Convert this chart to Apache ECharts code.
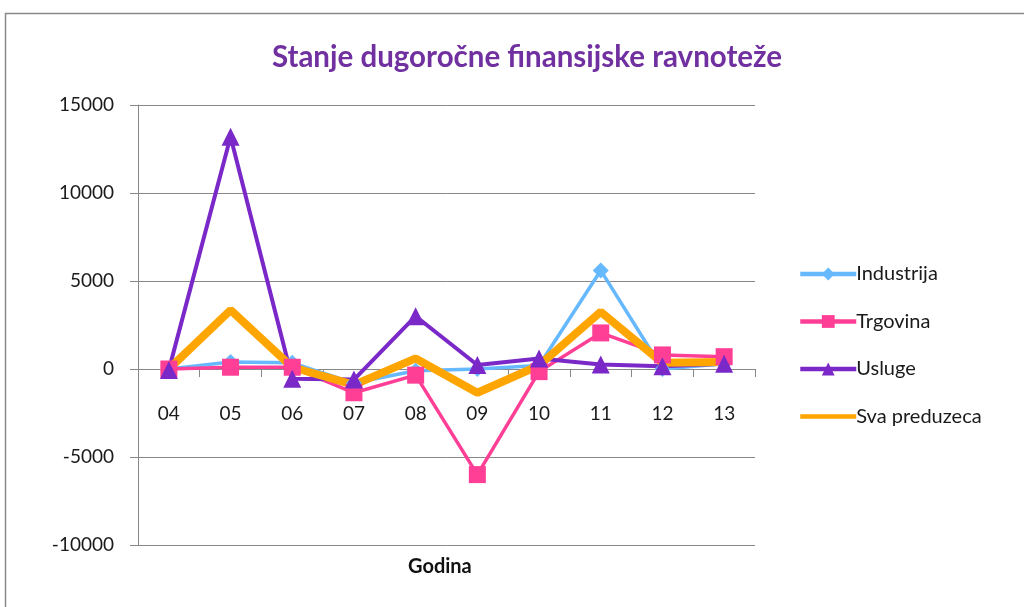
<html>
<head>
<meta charset="UTF-8">
<title>Stanje dugoročne finansijske ravnoteže</title>
<script src="https://cdn.jsdelivr.net/npm/echarts@6/dist/echarts.min.js"></script>
<style>
  body { margin: 0; background: #fff; }
  #main { width: 1024px; height: 607px; }
</style>
</head>
<body>
<div id="main"></div>
<script>
// godine (x osa)
var godine = ['04', '05', '06', '07', '08', '09', '10', '11', '12', '13'];

// vrijednosti po sektorima, ocitane sa slike
var industrija = [0, 400, 350, -800, -100, 0, 200, 5600, 0, 300];
var trgovina = [0, 100, 100, -1350, -350, -6000, -150, 2050, 800, 700];
var usluge = [-50, 13200, -550, -600, 3000, 230, 600, 250, 150, 300];
var svaPreduzeca = [0, 3350, 100, -900, 600, -1350, 200, 3250, 350, 400];

var nazivi = ['Industrija', 'Trgovina', 'Usluge', 'Sva preduzeca'];

var myChart = echarts.init(document.getElementById('main'));

function linija(ime, podaci, boja, simbol, velicina, debljina) {
    return {
        name: ime,
        type: 'line',
        data: podaci,
        symbol: simbol,
        symbolSize: velicina,
        showSymbol: simbol !== 'none',
        itemStyle: { color: boja },
        lineStyle: { color: boja, width: debljina },
        emphasis: { disabled: true }
    };
}

var option = {
    animation: false,
    backgroundColor: '#fff',
    title: {
        text: 'Stanje dugoročne finansijske ravnoteže',
        left: 522,
        top: 37,
        textAlign: 'center',
        textStyle: { color: '#7030A0', fontSize: 29.5, fontWeight: 'bold', fontFamily: 'Lato' }
    },
    legend: {
        orient: 'vertical',
        left: 793,
        top: 259,
        itemWidth: 56,
        itemHeight: 16,
        itemGap: 27.5,
        itemStyle: { borderWidth: 0 },
        lineStyle: { width: 4.5 },
        textStyle: { fontSize: 20, color: '#1a1a1a', fontFamily: 'Lato', padding: [0, 0, 0, -5] },
        data: [
            nazivi[0],
            nazivi[1],
            nazivi[2],
            { name: nazivi[3], itemStyle: { opacity: 0 } }
        ]
    },
    grid: { left: 138, right: 269, top: 105, bottom: 62 },
    xAxis: {
        type: 'category',
        data: godine,
        boundaryGap: true,
        axisLine: { onZero: true, lineStyle: { color: '#888', width: 1 } },
        axisTick: { show: true, length: 8, lineStyle: { color: '#888' } },
        axisLabel: { fontSize: 19, color: '#1a1a1a', fontFamily: 'Lato', margin: -141 }
    },
    yAxis: {
        type: 'value',
        min: -10000,
        max: 15000,
        interval: 5000,
        axisLine: { show: true, lineStyle: { color: '#888', width: 1 } },
        axisTick: { show: true, length: 8, lineStyle: { color: '#888' } },
        axisLabel: {
            fontSize: 19, color: '#1a1a1a', fontFamily: 'Lato', margin: 24,
            formatter: function (v) { return String(v); }
        },
        splitLine: { lineStyle: { color: '#888', width: 1 } }
    },
    graphic: [
        {
            type: 'rect',
            shape: { x: 5.5, y: 13.5, width: 1100, height: 700 },
            style: { fill: 'none', stroke: '#888', lineWidth: 1.5 },
            silent: true
        },
        {
            type: 'text',
            left: 408,
            top: 557,
            style: { text: 'Godina', fontSize: 20, fontWeight: 'bold', fill: '#111', fontFamily: 'Lato' }
        }
    ],
    series: [
        linija('Industrija', industrija, '#66B8FF', 'diamond', 16, 3.5),
        linija('Trgovina', trgovina, '#FF3F96', 'rect', 17, 3.5),
        linija('Usluge', usluge, '#7B28C8', 'triangle', 18, 4),
        linija('Sva preduzeca', svaPreduzeca, '#FFA500', 'none', 0, 8)
    ]
};

myChart.setOption(option);
</script>
</body>
</html>
